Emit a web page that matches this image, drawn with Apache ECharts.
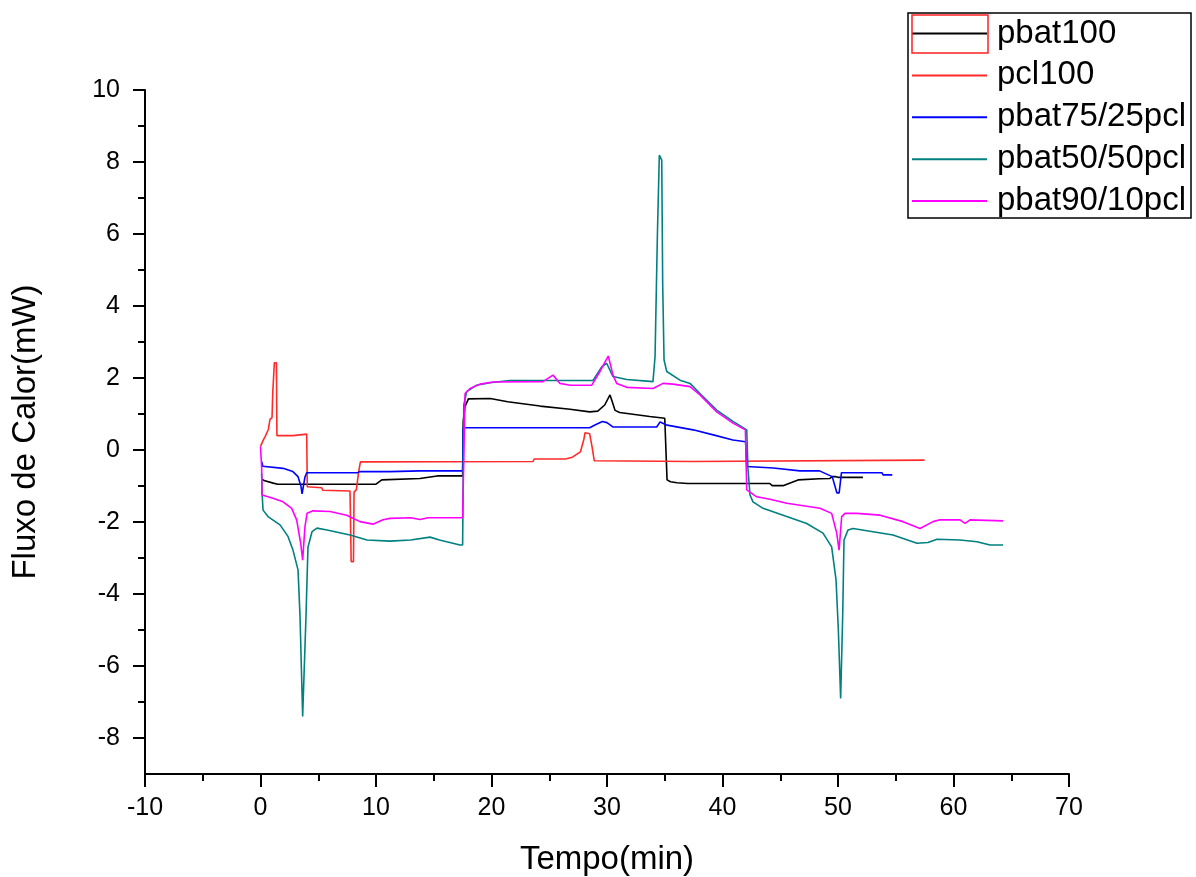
<!DOCTYPE html>
<html>
<head>
<meta charset="utf-8">
<script src="https://cdn.jsdelivr.net/npm/echarts@6/dist/echarts.min.js"></script>
<style>html,body{margin:0;padding:0;background:#fff;}#c{width:1196px;height:877px;}</style>
</head>
<body>
<div id="c"></div>
<script>
const seriesNames = ['pbat100', 'pcl100', 'pbat75/25pcl', 'pbat50/50pcl', 'pbat90/10pcl'];
const seriesColors = ['#000000', '#ff2a2a', '#0000ff', '#008080', '#ff00ff'];
const xTicks = [-10, 0, 10, 20, 30, 40, 50, 60, 70];
const xMinorTicks = [-5, 5, 15, 25, 35, 45, 55, 65];
const yMajorTicks = [-8, -6, -4, -2, 0, 2, 4, 6, 8, 10];
const yMinorTicks = [-7, -5, -3, -1, 1, 3, 5, 7, 9];

const pbat100 = [[0.1,-0.8],[0.3,-0.85],[1.1,-0.92],[1.5,-0.95],[10.0,-0.95],[10.5,-0.83],[13.8,-0.79],[15.3,-0.72],[17.5,-0.72],[17.55,0.79],[17.7,1.2],[18.0,1.42],[19.9,1.43],[21.4,1.34],[24.2,1.22],[26.8,1.13],[28.5,1.06],[29.2,1.08],[29.8,1.25],[30.26,1.53],[30.5,1.3],[30.7,1.1],[31.1,1.04],[33.7,0.93],[35.0,0.88],[35.17,0.83],[35.2,-0.83],[35.5,-0.88],[36.06,-0.91],[37,-0.93],[44.1,-0.93],[44.3,-0.99],[45.24,-0.99],[46.54,-0.83],[48.4,-0.8],[49.3,-0.79],[49.5,-0.74],[49.8,-0.74],[50,-0.76],[52.16,-0.76]];
const pcl100 = [[0,0.1],[0.25,0.28],[0.4,0.37],[0.68,0.57],[0.82,0.85],[1.0,0.9],[1.06,1.58],[1.2,2.42],[1.38,2.42],[1.42,0.4],[2.8,0.4],[2.85,0.44],[4.0,0.44],[4.05,-1.02],[5.3,-1.05],[5.4,-1.12],[7.75,-1.14],[7.85,-3.1],[8.05,-3.1],[8.1,-1.17],[8.3,-1.1],[8.5,-0.6],[8.65,-0.33],[23.6,-0.32],[23.7,-0.25],[26.4,-0.25],[27.0,-0.2],[27.7,-0.05],[28.0,0.3],[28.1,0.48],[28.5,0.45],[28.7,0.1],[28.9,-0.3],[29.05,-0.32],[37.4,-0.32],[37.5,-0.28],[57.5,-0.28]];
const pbat75 = [[0.1,-0.32],[0.2,-0.45],[1.95,-0.51],[2.8,-0.6],[3.25,-0.74],[3.5,-1.0],[3.6,-1.22],[3.75,-1.22],[3.85,-0.75],[4.0,-0.63],[8.4,-0.63],[8.6,-0.6],[11.2,-0.6],[13.8,-0.58],[17.5,-0.58],[17.55,0.62],[28.5,0.62],[29.0,0.7],[29.6,0.79],[30.0,0.76],[30.5,0.64],[34.3,0.64],[34.6,0.78],[35.2,0.69],[37.45,0.56],[39.2,0.42],[40.9,0.28],[42.0,0.23],[42.1,-0.46],[44.4,-0.5],[46.7,-0.58],[48.4,-0.58],[49.5,-0.74],[49.9,-1.19],[50.1,-1.19],[50.3,-0.63],[53.8,-0.63],[53.9,-0.69],[54.7,-0.69]];
const pbat50 = [[0.1,-0.65],[0.13,-1.16],[0.22,-1.67],[0.65,-1.85],[1.69,-2.08],[2.38,-2.4],[2.81,-2.78],[3.25,-3.33],[3.42,-4.6],[3.65,-7.4],[3.75,-7.4],[3.94,-4.6],[4.11,-2.7],[4.46,-2.27],[4.89,-2.17],[5.76,-2.22],[7.75,-2.36],[9.22,-2.5],[11.21,-2.53],[13.0,-2.5],[14.68,-2.42],[15.5,-2.5],[17.27,-2.64],[17.5,-2.64],[17.6,1.25],[17.85,1.62],[18.72,1.8],[19.87,1.87],[21.6,1.93],[28.79,1.93],[29.54,2.31],[29.97,2.41],[30.52,2.04],[31.71,1.96],[33.98,1.9],[34.16,2.59],[34.36,5.93],[34.53,8.19],[34.74,8.05],[34.82,4.63],[34.94,2.5],[35.17,2.18],[36.32,1.94],[37.19,1.85],[38.05,1.57],[39.5,1.11],[40.94,0.79],[42.1,0.56],[42.2,-0.5],[42.38,-1.25],[42.64,-1.44],[43.51,-1.62],[45.56,-1.85],[47.29,-2.04],[48.7,-2.31],[49.45,-2.69],[49.83,-3.61],[50.03,-5.0],[50.23,-6.9],[50.41,-4.54],[50.52,-2.5],[50.87,-2.22],[51.3,-2.18],[53.03,-2.27],[54.76,-2.36],[56.84,-2.59],[57.79,-2.57],[58.57,-2.48],[60.56,-2.5],[62.03,-2.55],[63.16,-2.64],[64.29,-2.64]];
const pbat90 = [[0,0.1],[0.1,-0.5],[0.13,-1.25],[1.08,-1.34],[1.95,-1.44],[2.7,-1.62],[3.13,-1.94],[3.48,-2.59],[3.65,-3.06],[3.75,-3.06],[3.85,-2.13],[4.03,-1.76],[4.55,-1.69],[6.02,-1.71],[7.46,-1.81],[8.61,-1.99],[9.74,-2.06],[10.61,-1.94],[11.21,-1.9],[13.0,-1.88],[13.81,-1.93],[14.5,-1.88],[17.5,-1.88],[17.71,1.57],[18.14,1.71],[19.0,1.83],[20.13,1.89],[24.46,1.9],[25.32,2.08],[25.93,1.85],[26.8,1.8],[28.68,1.8],[29.39,2.18],[29.83,2.45],[30.11,2.61],[30.52,2.08],[30.84,1.85],[31.71,1.74],[33.98,1.71],[34.85,1.85],[35.71,1.83],[37.19,1.76],[38.05,1.53],[39.5,1.06],[40.94,0.74],[41.98,0.56],[42.1,-1.11],[42.96,-1.3],[44.11,-1.37],[45.56,-1.48],[48.44,-1.62],[49.45,-1.76],[49.89,-2.31],[50.09,-2.78],[50.32,-1.85],[50.61,-1.76],[51.62,-1.76],[53.64,-1.81],[55.63,-1.99],[57.1,-2.18],[58.23,-1.99],[58.83,-1.94],[60.56,-1.94],[61.0,-2.04],[61.43,-1.94],[64.29,-1.97]];

const seriesData = [pbat100, pcl100, pbat75, pbat50, pbat90];
const FONT = '"Liberation Sans", Arial, sans-serif';

const chart = echarts.init(document.getElementById('c'), null, {renderer: 'canvas'});
const tickLine = {color: '#000', width: 2};
const xBase = {type: 'value', min: -10, max: 70, interval: 10, position: 'bottom', splitLine: {show: false}};
const yBase = {type: 'value', min: -9, max: 10, position: 'left', splitLine: {show: false}};
chart.setOption({
  animation: false,
  backgroundColor: '#ffffff',
  grid: {left: 145, right: 127, top: 90, bottom: 103, containLabel: false, outerBoundsMode: 'none'},
  legend: {
    orient: 'vertical', left: 912, top: 17, padding: 0,
    icon: 'rect', itemWidth: 75, itemHeight: 2, itemGap: 8.9,
    data: seriesNames,
    textStyle: {fontFamily: FONT, fontSize: 33, color: '#000', padding: [4, 0, 0, 5]}
  },
  xAxis: [
    Object.assign({}, xBase, {
      axisLine: {onZero: false, lineStyle: tickLine},
      axisTick: {length: 13, customValues: xTicks, lineStyle: tickLine},
      axisLabel: {fontFamily: FONT, fontSize: 25, color: '#000', margin: 22, customValues: xTicks},
      name: 'Tempo(min)', nameLocation: 'middle', nameGap: 69,
      nameTextStyle: {fontFamily: FONT, fontSize: 33, color: '#000'}
    }),
    Object.assign({}, xBase, {
      axisLine: {show: false, onZero: false},
      axisTick: {show: true, length: 7, customValues: xMinorTicks, lineStyle: tickLine},
      axisLabel: {show: false}
    })
  ],
  yAxis: [
    Object.assign({}, yBase, {
      axisLine: {show: true, onZero: false, lineStyle: tickLine},
      axisTick: {show: true, length: 12, customValues: yMajorTicks, lineStyle: tickLine},
      axisLabel: {fontFamily: FONT, fontSize: 25, color: '#000', margin: 25, customValues: yMajorTicks},
      name: 'Fluxo de Calor(mW)', nameLocation: 'middle', nameGap: 103,
      nameTextStyle: {fontFamily: FONT, fontSize: 33, color: '#000'}
    }),
    Object.assign({}, yBase, {
      axisLine: {show: false, onZero: false},
      axisTick: {show: true, length: 7, customValues: yMinorTicks, lineStyle: tickLine},
      axisLabel: {show: false}
    })
  ],
  graphic: [
    {type: 'rect', shape: {x: 908, y: 13, width: 283, height: 205}, style: {fill: null, stroke: '#000', lineWidth: 1.5}, z: 100},
    {type: 'rect', shape: {x: 912, y: 15, width: 76, height: 38}, style: {fill: null, stroke: '#ff2020', lineWidth: 1.5}, z: 101}
  ],
  series: seriesNames.map((n, i) => ({
    name: n, type: 'line', data: seriesData[i], xAxisIndex: 0, yAxisIndex: 0,
    symbol: 'none', showSymbol: false,
    lineStyle: {color: seriesColors[i], width: 1.6},
    itemStyle: {color: seriesColors[i]},
    emphasis: {disabled: true}
  }))
});
</script>
</body>
</html>
